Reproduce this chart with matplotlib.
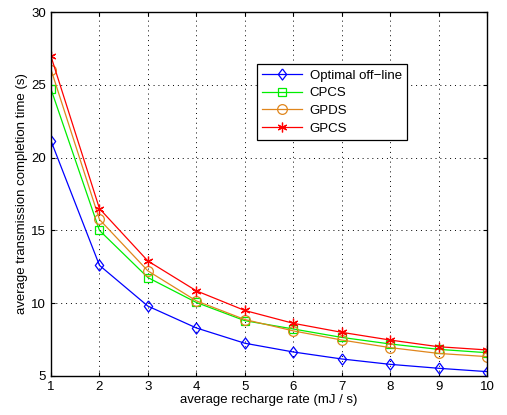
import matplotlib

matplotlib.use("Agg")
import matplotlib.pyplot as plt

plt.rcParams["font.family"] = ["Liberation Sans", "DejaVu Sans"]

rate = [1, 2, 3, 4, 5, 6, 7, 8, 9, 10]
optimal = [21.15, 12.6, 9.8, 8.3, 7.25, 6.65, 6.17, 5.8, 5.53, 5.3]
cpcs = [24.7, 15.0, 11.76, 10.05, 8.8, 8.23, 7.65, 7.2, 6.83, 6.6]
gpds = [26.05, 15.75, 12.22, 10.16, 8.88, 8.1, 7.47, 6.95, 6.55, 6.33]
gpcs = [26.95, 16.5, 12.9, 10.85, 9.5, 8.62, 8.0, 7.47, 7.01, 6.79]

# narrow diamond like the matlab 'd' marker
diamond = [(0, 1), (0.75, 0), (0, -1), (-0.75, 0), (0, 1)]

fig = plt.figure(figsize=(5.07, 4.15), dpi=100)
ax = fig.add_axes([0.1006, 0.094, 0.86, 0.877])

ax.plot(rate, optimal, color="#0000ff", lw=0.9, marker=diamond, ms=8, mfc="none",
        mew=0.9, label="Optimal off\u2212line")
ax.plot(rate, cpcs, color="#00ee00", lw=0.9, marker="s", ms=5.5, mfc="none",
        mew=0.9, label="CPCS")
ax.plot(rate, gpds, color="#e0861c", lw=0.9, marker="o", ms=7, mfc="none",
        mew=0.9, label="GPDS")
ax.plot(rate, gpcs, color="#ff0000", lw=0.9, marker=(6, 2, 0), ms=7, mfc="none",
        mew=0.9, label="GPCS")

ax.set_xlim(1, 10)
ax.set_ylim(5, 30)
ax.set_xticks(range(1, 11))
ax.set_yticks([5, 10, 15, 20, 25, 30])
ax.grid(True, ls=(0, (1, 4)), color="black", lw=0.7)
ax.tick_params(direction="in", labelsize=9.5, length=3, top=True, right=True)
for s in ax.spines.values():
    s.set_linewidth(1.0)

ax.set_xlabel("average recharge rate (mJ / s)", fontsize=9.5, labelpad=1)
ax.set_ylabel("average transmission completion time (s)", fontsize=9.5, labelpad=2)

leg = ax.legend(loc="upper left", bbox_to_anchor=(0.472, 0.856), fontsize=9.5,
                fancybox=False, framealpha=1, edgecolor="black",
                borderpad=0.4, handlelength=3.0, handletextpad=0.6,
                labelspacing=0.4, borderaxespad=0)
leg.get_frame().set_linewidth(0.9)

fig.savefig("out.png", dpi=100)
